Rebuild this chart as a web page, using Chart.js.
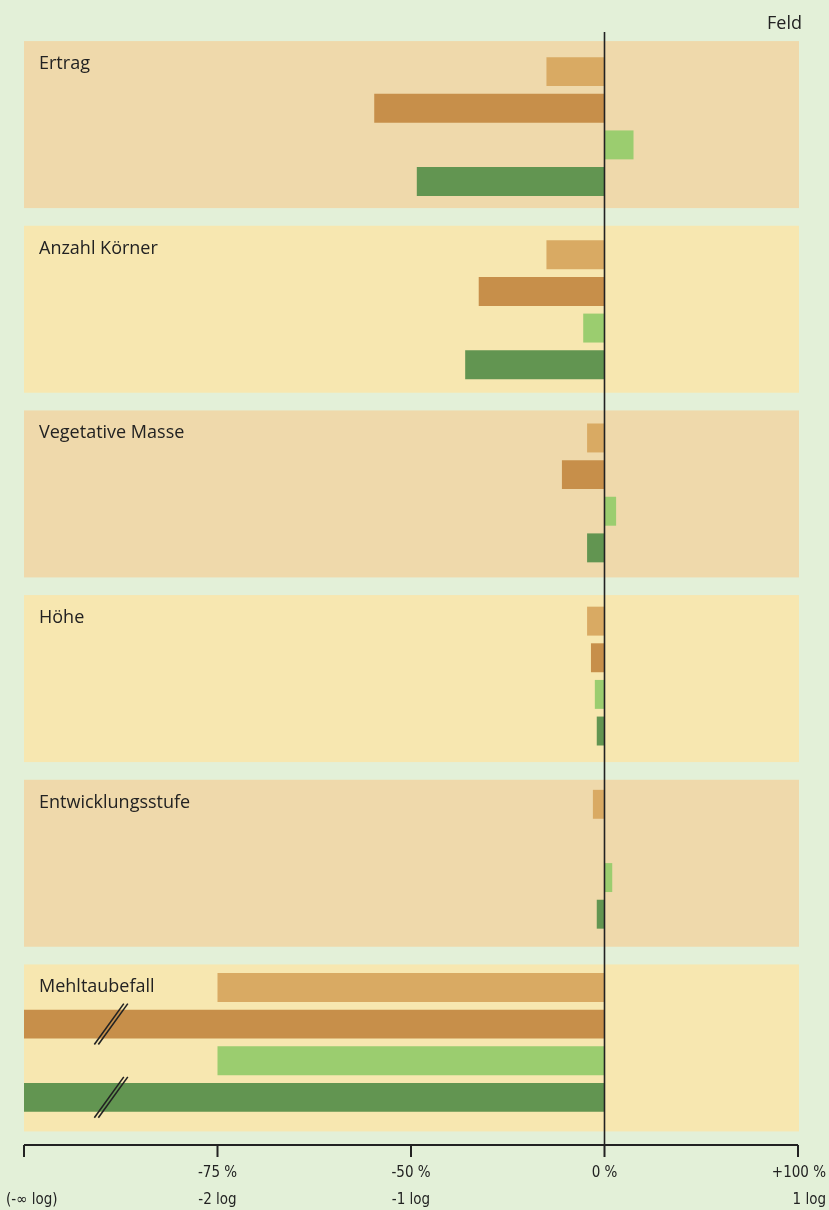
<!DOCTYPE html>
<html>
<head>
<meta charset="utf-8">
<script src="https://cdn.jsdelivr.net/npm/chart.js"></script>
<style>
  html, body { margin: 0; padding: 0; background: #e3f0d8; }
  #wrap { width: 829px; height: 1210px; }
</style>
</head>
<body>
<div id="wrap"><canvas id="chart" width="829" height="1210"></canvas></div>
<script>
// Werte in log2-Einheiten (0 = 0 %, -1 = -50 %, -2 = -75 %, 1 = +100 %, -3 = Rand "-∞")
const categories = ['Ertrag', 'Anzahl Körner', 'Vegetative Masse', 'Höhe', 'Entwicklungsstufe', 'Mehltaubefall'];
const seriesA = [-0.30, -0.30, -0.09, -0.09, -0.06, -2.0];   // hell ocker
const seriesB = [-1.19, -0.65, -0.22, -0.07, 0, -3.0];       // dunkel ocker
const seriesC = [0.15, -0.11, 0.06, -0.05, 0.04, -2.0];      // hellgrün
const seriesD = [-0.97, -0.72, -0.09, -0.04, -0.04, -3.0];   // dunkelgrün
const tickValues = [-3, -2, -1, 0, 1];
const tickPercent = ['', '-75 %', '-50 %', '0 %', '+100 %'];
const tickLog = ['(-∞ log)', '-2 log', '-1 log', '', '1 log'];
const brokenBars = [[1, 5], [3, 5]]; // [dataset, index] mit Achsenbruch

const colors = ['#d9aa63', '#c78f4a', '#9bcd6f', '#629551'];
const panelColors = ['#efd9ab', '#f7e7b0'];
const FONT = '"Open Sans", "Noto Sans", sans-serif';

const decor = {
  id: 'decor',
  beforeDatasetsDraw(chart) {
    const { ctx, scales: { x, y } } = chart;
    ctx.save();
    categories.forEach((c, i) => {
      const cy = y.getPixelForValue(i) - 2 + i * 1.5;
      ctx.fillStyle = panelColors[i % 2];
      ctx.fillRect(x.left, cy - 83.5, x.right + 1 - x.left, 167);
      ctx.fillStyle = '#222';
      ctx.font = '18px ' + FONT;
      ctx.textBaseline = 'alphabetic';
      ctx.fillText(c, 39, cy - 83.5 + 28);
    });
    ctx.restore();
  },
  afterDatasetsDraw(chart) {
    const { ctx, scales: { x } } = chart;
    ctx.save();
    // Achsenbruch
    brokenBars.forEach(([d, i]) => {
      const bar = chart.getDatasetMeta(d).data[i];
      const bx = x.getPixelForValue(-2.55);
      const top = bar.y - bar.height / 2 - 6;
      const bot = bar.y + bar.height / 2 + 6;
      const h = bot - top;
      ctx.strokeStyle = '#222';
      ctx.lineWidth = 1.6;
      [-2, 2].forEach(off => {
        ctx.beginPath();
        ctx.moveTo(bx + off - h * 0.36, bot);
        ctx.lineTo(bx + off + h * 0.36, top);
        ctx.stroke();
      });
    });
    // Nulllinie
    const x0 = x.getPixelForValue(0);
    const axisY = 1145;
    ctx.strokeStyle = '#222';
    ctx.lineWidth = 1.6;
    ctx.beginPath();
    ctx.moveTo(x0, 32);
    ctx.lineTo(x0, axisY);
    ctx.stroke();
    // x-Achse
    ctx.lineWidth = 2;
    ctx.beginPath();
    ctx.moveTo(x.getPixelForValue(-3), axisY);
    ctx.lineTo(x.getPixelForValue(1), axisY);
    ctx.stroke();
    ctx.fillStyle = '#222';
    ctx.font = '15px "DejaVu Sans Condensed", ' + FONT;
    ctx.textBaseline = 'alphabetic';
    tickValues.forEach((v, i) => {
      const px = x.getPixelForValue(v);
      ctx.beginPath();
      ctx.moveTo(px, axisY);
      ctx.lineTo(px, axisY + 12);
      ctx.stroke();
      let align = 'center';
      let lx = px;
      if (i === tickValues.length - 1) { align = 'right'; lx = 826; }
      if (i === 0) { align = 'left'; lx = 6; }
      ctx.textAlign = align;
      if (tickPercent[i]) ctx.fillText(tickPercent[i], lx, 1177);
      if (tickLog[i]) ctx.fillText(tickLog[i], lx, 1204);
    });
    // Feld
    ctx.font = '18px ' + FONT;
    ctx.textAlign = 'right';
    ctx.fillStyle = '#222';
    ctx.fillText('Feld', 802, 29);
    ctx.restore();
  }
};

new Chart(document.getElementById('chart'), {
  type: 'bar',
  data: {
    labels: categories,
    datasets: [seriesA, seriesB, seriesC, seriesD].map((d, i) => ({
      data: d,
      backgroundColor: colors[i],
      borderWidth: 0,
      categoryPercentage: 0.8,
      barPercentage: 0.79
    }))
  },
  options: {
    indexAxis: 'y',
    responsive: false,
    animation: false,
    layout: { padding: { left: 24, right: 31, top: 35, bottom: 76 } },
    plugins: { legend: { display: false }, tooltip: { enabled: false } },
    scales: {
      x: { type: 'linear', min: -3, max: 1, display: false },
      y: { display: false }
    }
  },
  plugins: [decor]
});
</script>
</body>
</html>
